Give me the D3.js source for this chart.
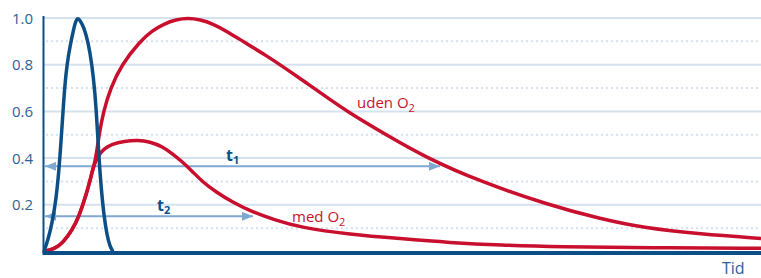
<!DOCTYPE html>
<html>
<head>
<meta charset="utf-8">
<script src="https://cdn.jsdelivr.net/npm/d3@7"></script>
<style>
  body { margin: 0; background: #fff; }
  svg text { font-family: "Open Sans", "Noto Sans", sans-serif; }
</style>
</head>
<body>
<svg id="chart" width="761" height="278"></svg>
<script>
// y tick labels and grid levels
const yTicks = [0.2, 0.4, 0.6, 0.8, 1.0];
const yDotted = [0.1, 0.3, 0.5, 0.7, 0.9];

// blue peak (time, value)
const blueT = [0, 4, 8, 12, 15, 17, 19, 21, 23, 26, 30, 32, 34, 36, 40, 44, 48, 51, 53, 55, 57, 60, 63, 66, 69];
const blueV = [0, .05, .12, .22, .35, .47, .6, .72, .8, .88, .96, .99, 1, .99, .96, .9, .8, .68, .55, .4, .28, .15, .07, .02, 0];

// uden O2
const udenT = [0, 11, 19, 28, 35, 42, 47, 52, 55, 59.5, 66.5, 77.5, 96, 108, 120, 132, 144, 156, 169, 182, 199, 222, 243, 263, 283, 303, 342, 383, 436, 504, 556, 601, 656, 717];
const udenV = [0, .012, .038, .09, .15, .24, .32, .4, .5, .6, .7, .8, .9, .945, .975, .993, 1, .993, .975, .945, .9, .84, .78, .72, .66, .6, .5, .4, .3, .2, .14, .1, .075, .056];

// med O2
const medT = [0, 11, 19, 28, 35, 42, 47, 49, 54, 60, 68, 80, 94, 106, 118, 128, 138, 148, 158, 172, 189, 208, 231, 256, 306, 356, 406, 456, 516, 606, 717];
const medV = [0, .012, .038, .09, .15, .24, .32, .36, .41, .44, .46, .472, .477, .47, .45, .42, .385, .345, .30, .255, .21, .17, .135, .103, .073, .055, .038, .027, .02, .016, .014];

// time arrows
const arrowNames = ['1', '2'];
const arrowLevel = [0.365, 0.151];
const arrowEnd = [396, 209];
const arrowLabelT = [182, 113];

const blue = '#0c4f86';
const red = '#c8102e';
const grid = '#d5e1ee';
const arrowCol = '#7fa8d3';
const tickCol = '#2d6199';

const svg = d3.select('#chart');
const x = d3.scaleLinear().domain([0, 717]).range([44, 761]);
const y = d3.scaleLinear().domain([0, 1]).range([251.5, 18]);

// grid
svg.append('g').selectAll('line').data(yTicks).join('line')
    .attr('x1', x(0)).attr('x2', x(717))
    .attr('y1', d => y(d)).attr('y2', d => y(d))
    .attr('stroke', grid).attr('stroke-width', 2);
svg.append('g').selectAll('line').data(yDotted).join('line')
    .attr('x1', x(0) + 2).attr('x2', x(717))
    .attr('y1', d => y(d)).attr('y2', d => y(d))
    .attr('stroke', grid).attr('stroke-width', 2)
    .attr('stroke-dasharray', '2,3');

// tick labels
svg.append('g').selectAll('text').data(yTicks).join('text')
    .attr('x', 33).attr('y', d => y(d) + 5.5)
    .attr('text-anchor', 'end')
    .attr('font-size', 15)
    .attr('fill', tickCol)
    .text(d => d.toFixed(1));

// arrows
const defs = svg.append('defs');
defs.append('marker').attr('id', 'ah').attr('viewBox', '0 0 10 8')
    .attr('refX', 10).attr('refY', 4)
    .attr('markerWidth', 11).attr('markerHeight', 9)
    .attr('markerUnits', 'userSpaceOnUse')
    .attr('orient', 'auto-start-reverse')
    .append('path').attr('d', 'M0,0 L10,4 L0,8 Z').attr('fill', arrowCol);

arrowNames.forEach((n, i) => {
    svg.append('line')
        .attr('x1', x(1)).attr('x2', x(arrowEnd[i]))
        .attr('y1', y(arrowLevel[i])).attr('y2', y(arrowLevel[i]))
        .attr('stroke', arrowCol).attr('stroke-width', 2)
        .attr('marker-start', 'url(#ah)').attr('marker-end', 'url(#ah)');
    const t = svg.append('text')
        .attr('x', x(arrowLabelT[i])).attr('y', y(arrowLevel[i]) - 5)
        .attr('font-size', 16).attr('font-weight', 'bold')
        .attr('fill', blue);
    t.append('tspan').text('t');
    t.append('tspan').attr('dy', 3).attr('font-size', 11).text(n);
});

// curves
const line = d3.line().x(d => x(d[0])).y(d => y(d[1])).curve(d3.curveBasis);
const curves = [
    [d3.zip(medT, medV), red],
    [d3.zip(udenT, udenV), red],
    [d3.zip(blueT, blueV), blue]
];
curves.forEach(([pts, col]) => {
    svg.append('path').attr('d', line(pts))
        .attr('fill', 'none').attr('stroke', col)
        .attr('stroke-width', 3.5).attr('stroke-linejoin', 'round');
});

// axes
svg.append('line').attr('x1', 43.5).attr('x2', 43.5).attr('y1', 16).attr('y2', 253)
    .attr('stroke', blue).attr('stroke-width', 2);
svg.append('line').attr('x1', 42.5).attr('x2', 761).attr('y1', 253).attr('y2', 253)
    .attr('stroke', blue).attr('stroke-width', 4);

// curve labels
function subLabel(txt, sub, xp, yp) {
    const t = svg.append('text').attr('x', xp).attr('y', yp)
        .attr('font-size', 15).attr('fill', red);
    t.append('tspan').text(txt);
    t.append('tspan').attr('dy', 4).attr('font-size', 11).text(sub);
}
subLabel('uden O', '2', 357, 108);
subLabel('med O', '2', 292, 222);

svg.append('text').attr('x', 722).attr('y', 274)
    .attr('font-size', 16).attr('fill', tickCol).text('Tid');
</script>
</body>
</html>
